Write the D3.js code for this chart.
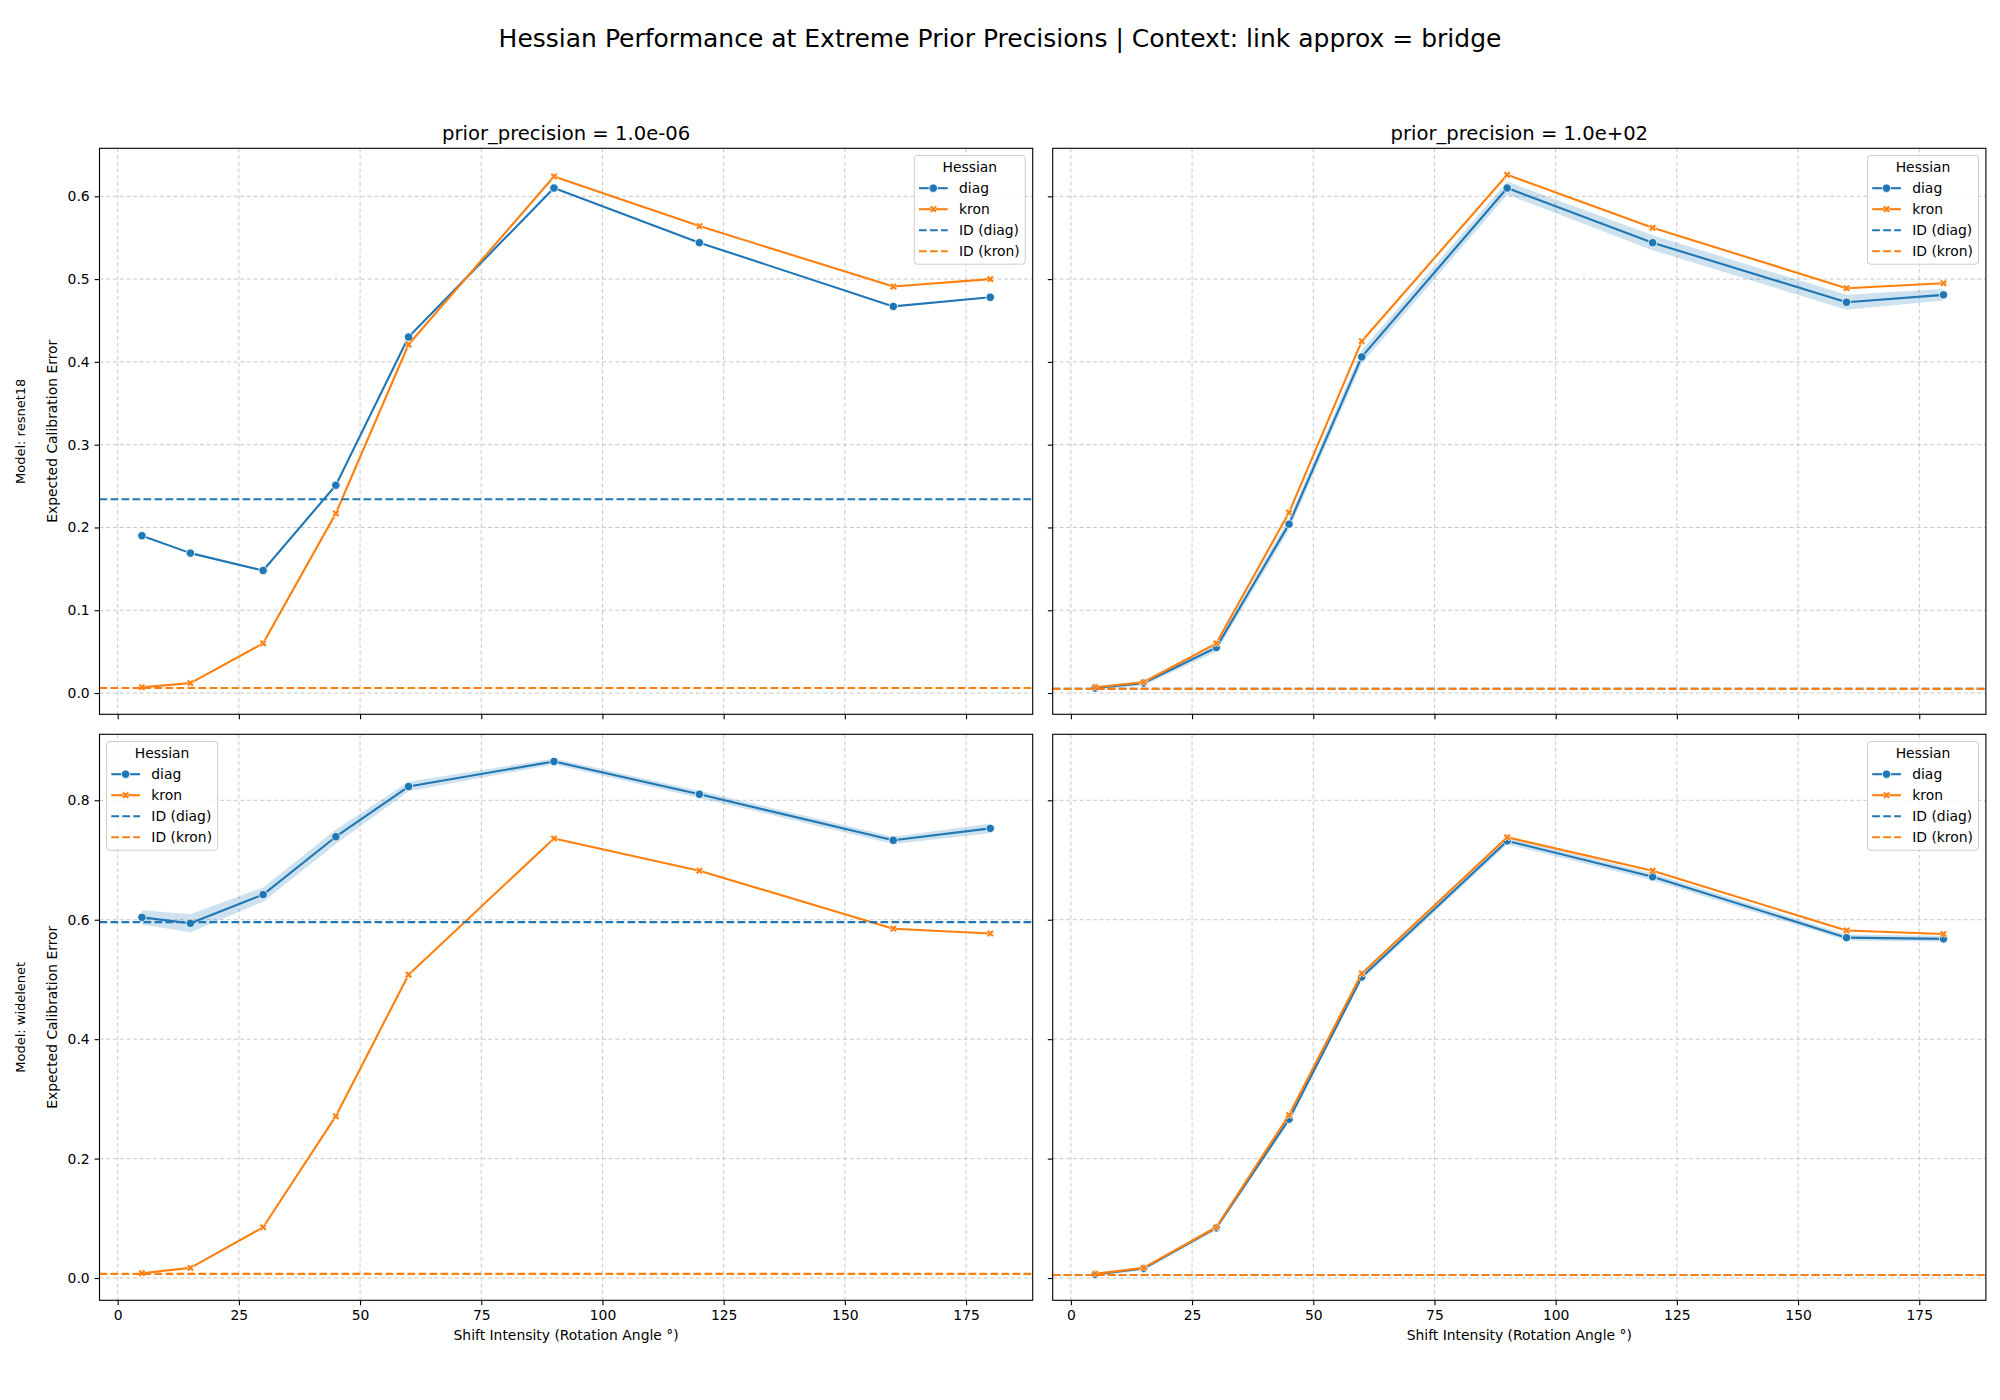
<!DOCTYPE html>
<html>
<head>
<meta charset="utf-8">
<script src="https://cdn.jsdelivr.net/npm/d3@7"></script>
<style>
  body { margin: 0; background: #fff; }
  text { font-family: "DejaVu Sans", sans-serif; fill: #000; }
</style>
</head>
<body>
<div id="vis"></div>
<script>
// ---- data ----
var angles = [5, 15, 30, 45, 60, 90, 120, 160, 180];
var xTicks = [0, 25, 50, 75, 100, 125, 150, 175];
var yTicksTop = [0.0, 0.1, 0.2, 0.3, 0.4, 0.5, 0.6];
var yTicksBottom = [0.0, 0.2, 0.4, 0.6, 0.8];
var models = ["resnet18", "widelenet"];
var priorLabels = ["1.0e-06", "1.0e+02"];
var legendLabels = ["diag", "kron", "ID (diag)", "ID (kron)"];

// resnet18, prior 1e-06
var r18LowDiag = [0.190, 0.169, 0.148, 0.251, 0.430, 0.610, 0.544, 0.467, 0.478];
var r18LowKron = [0.007, 0.012, 0.060, 0.217, 0.421, 0.624, 0.564, 0.491, 0.500];
// resnet18, prior 1e+02
var r18HighDiag = [0.006, 0.012, 0.055, 0.204, 0.406, 0.610, 0.544, 0.472, 0.481];
var r18HighDiagLo = [0.004, 0.009, 0.050, 0.197, 0.398, 0.602, 0.535, 0.463, 0.474];
var r18HighDiagHi = [0.008, 0.015, 0.060, 0.211, 0.414, 0.618, 0.553, 0.481, 0.488];
var r18HighKron = [0.007, 0.013, 0.060, 0.218, 0.425, 0.626, 0.562, 0.489, 0.495];
// widelenet, prior 1e-06
var wlLowDiag = [0.604, 0.594, 0.642, 0.739, 0.823, 0.865, 0.810, 0.733, 0.753];
var wlLowDiagLo = [0.592, 0.579, 0.630, 0.727, 0.815, 0.860, 0.804, 0.727, 0.745];
var wlLowDiagHi = [0.616, 0.609, 0.654, 0.751, 0.831, 0.870, 0.816, 0.739, 0.761];
var wlLowKron = [0.008, 0.017, 0.085, 0.271, 0.508, 0.736, 0.682, 0.585, 0.577];
// widelenet, prior 1e+02
var wlHighDiag = [0.006, 0.016, 0.084, 0.266, 0.504, 0.732, 0.672, 0.570, 0.568];
var wlHighDiagLo = [0.004, 0.013, 0.080, 0.261, 0.499, 0.726, 0.666, 0.565, 0.563];
var wlHighDiagHi = [0.008, 0.019, 0.088, 0.271, 0.509, 0.738, 0.678, 0.575, 0.573];
var wlHighKron = [0.007, 0.017, 0.085, 0.273, 0.510, 0.738, 0.682, 0.582, 0.576];

// in-distribution reference levels, one per panel (TL, TR, BL, BR)
var idDiag = [0.234, 0.005, 0.596, 0.005];
var idKron = [0.006, 0.005, 0.007, 0.005];

// ---- layout ----
var BLUE = "#1f77b4", ORANGE = "#ff7f0e";
var colX = [99.5, 1052.7];
var rowY = [148.3, 734.3];
var panelW = 933.2, panelH = 566;
var yDomains = [[-0.0257, 0.658], [-0.0373, 0.9105]];
var FS = 13.9;

var panels = [
  { row: 0, col: 0, diag: r18LowDiag, lo: null, hi: null, kron: r18LowKron, legend: "right" },
  { row: 0, col: 1, diag: r18HighDiag, lo: r18HighDiagLo, hi: r18HighDiagHi, kron: r18HighKron, legend: "right" },
  { row: 1, col: 0, diag: wlLowDiag, lo: wlLowDiagLo, hi: wlLowDiagHi, kron: wlLowKron, legend: "left" },
  { row: 1, col: 1, diag: wlHighDiag, lo: wlHighDiagLo, hi: wlHighDiagHi, kron: wlHighKron, legend: "right" }
];

var svg = d3.select("#vis").append("svg")
  .attr("width", 2000).attr("height", 1400)
  .style("background", "#fff");

svg.append("text")
  .attr("x", 1000).attr("y", 47)
  .attr("text-anchor", "middle")
  .style("font-size", "25px")
  .text("Hessian Performance at Extreme Prior Precisions | Context: link approx = bridge");

var xScale = d3.scaleLinear().domain([-3.75, 188.75]).range([0, panelW]);

var crossSym = d3.symbol().type(d3.symbolCross).size(34);

function drawMarker(g, kind, cx, cy, color) {
  if (kind == "o") {
    g.append("circle").attr("cx", cx).attr("cy", cy).attr("r", 4.2)
      .attr("fill", color).attr("stroke", "#fff").attr("stroke-width", 0.8);
  } else {
    g.append("path").attr("d", crossSym())
      .attr("transform", "translate(" + cx + "," + cy + ") rotate(45)")
      .attr("fill", color).attr("stroke", "#fff").attr("stroke-width", 0.6);
  }
}

panels.forEach(function (p, i) {
  var g = svg.append("g")
    .attr("transform", "translate(" + colX[p.col] + "," + rowY[p.row] + ")");
  var yScale = d3.scaleLinear().domain(yDomains[p.row]).range([panelH, 0]);
  var yTicks = p.row == 0 ? yTicksTop : yTicksBottom;

  g.append("clipPath").attr("id", "clip" + i)
    .append("rect").attr("width", panelW).attr("height", panelH);

  // grid
  g.selectAll(".gx").data(xTicks).enter().append("line")
    .attr("x1", function (d) { return xScale(d); })
    .attr("x2", function (d) { return xScale(d); })
    .attr("y1", 0).attr("y2", panelH)
    .attr("stroke", "#c8c8c8").attr("stroke-width", 1).attr("stroke-dasharray", "4,2.7");
  g.selectAll(".gy").data(yTicks).enter().append("line")
    .attr("y1", function (d) { return yScale(d); })
    .attr("y2", function (d) { return yScale(d); })
    .attr("x1", 0).attr("x2", panelW)
    .attr("stroke", "#c8c8c8").attr("stroke-width", 1).attr("stroke-dasharray", "4,2.7");

  var plot = g.append("g").attr("clip-path", "url(#clip" + i + ")");

  // confidence band for diag
  if (p.lo) {
    var area = d3.area()
      .x(function (d, j) { return xScale(angles[j]); })
      .y0(function (d, j) { return yScale(p.lo[j]); })
      .y1(function (d, j) { return yScale(p.hi[j]); });
    plot.append("path").datum(p.lo).attr("d", area)
      .attr("fill", BLUE).attr("fill-opacity", 0.22).attr("stroke", "none");
  }

  var line = d3.line()
    .x(function (d, j) { return xScale(angles[j]); })
    .y(function (d) { return yScale(d); });

  [[p.diag, BLUE, "o"], [p.kron, ORANGE, "x"]].forEach(function (s) {
    plot.append("path").datum(s[0]).attr("d", line)
      .attr("fill", "none").attr("stroke", s[1]).attr("stroke-width", 2.1)
      .attr("stroke-linejoin", "round");
    s[0].forEach(function (v, j) {
      drawMarker(plot, s[2], xScale(angles[j]), yScale(v), s[1]);
    });
  });

  // ID reference lines
  [[idDiag[i], BLUE], [idKron[i], ORANGE]].forEach(function (h) {
    plot.append("line")
      .attr("x1", 0).attr("x2", panelW)
      .attr("y1", yScale(h[0])).attr("y2", yScale(h[0]))
      .attr("stroke", h[1]).attr("stroke-width", 2.1).attr("stroke-dasharray", "7.7,3.3");
  });

  // axes
  var xAxis = d3.axisBottom(xScale).tickValues(xTicks).tickSize(4.9).tickPadding(4.9)
    .tickFormat(p.row == 1 ? d3.format("d") : function () { return ""; });
  var gx = g.append("g").attr("transform", "translate(0," + panelH + ")").call(xAxis);
  var yAxis = d3.axisLeft(yScale).tickValues(yTicks).tickSize(4.9).tickPadding(4.9)
    .tickFormat(p.col == 0 ? d3.format(".1f") : function () { return ""; });
  var gy = g.append("g").call(yAxis);
  [gx, gy].forEach(function (a) {
    a.select(".domain").remove();
    a.selectAll(".tick line").attr("stroke", "#000").attr("stroke-width", 1.1);
    a.selectAll(".tick text").style("font-size", FS + "px")
      .style("font-family", "'DejaVu Sans', sans-serif").attr("fill", "#000");
  });

  // spines
  g.append("rect").attr("width", panelW).attr("height", panelH)
    .attr("fill", "none").attr("stroke", "#000").attr("stroke-width", 1.1);

  if (p.row == 0) {
    g.append("text").attr("x", panelW / 2).attr("y", -8.5)
      .attr("text-anchor", "middle").style("font-size", "19.6px")
      .text("prior_precision = " + priorLabels[p.col]);
  } else {
    g.append("text").attr("x", panelW / 2).attr("y", 1340 - rowY[1])
      .attr("text-anchor", "middle").style("font-size", FS + "px")
      .text("Shift Intensity (Rotation Angle \u00b0)");
  }
  if (p.col == 0) {
    g.append("text")
      .attr("transform", "translate(" + (52 - colX[0]) + "," + panelH / 2 + ") rotate(-90)")
      .attr("text-anchor", "middle").attr("dy", "0.35em").style("font-size", FS + "px")
      .text("Expected Calibration Error");
    g.append("text")
      .attr("transform", "translate(" + (20 - colX[0]) + "," + panelH / 2 + ") rotate(-90)")
      .attr("text-anchor", "middle").attr("dy", "0.35em").style("font-size", "13px")
      .text("Model: " + models[p.row]);
  }

  // legend
  var lw = 111, lh = 108.7;
  var lx = p.legend == "right" ? panelW - 7.4 - lw : 7.1;
  var lg = g.append("g").attr("transform", "translate(" + lx + ",7.2)");
  lg.append("rect").attr("width", lw).attr("height", lh).attr("rx", 3)
    .attr("fill", "#fff").attr("fill-opacity", 0.8)
    .attr("stroke", "#cccccc").attr("stroke-width", 1);
  lg.append("text").attr("x", lw / 2).attr("y", 16.8)
    .attr("text-anchor", "middle").style("font-size", FS + "px").text("Hessian");
  var legendColors = [BLUE, ORANGE, BLUE, ORANGE];
  legendLabels.forEach(function (lab, k) {
    var cy = 32.7 + k * 21;
    var ln = lg.append("line").attr("x1", 4.7).attr("x2", 33.4)
      .attr("y1", cy).attr("y2", cy)
      .attr("stroke", legendColors[k]).attr("stroke-width", 2.1);
    if (k >= 2) {
      ln.attr("stroke-dasharray", "7.7,3.3");
    } else {
      drawMarker(lg, k == 0 ? "o" : "x", 19, cy, legendColors[k]);
    }
    lg.append("text").attr("x", 44.7).attr("y", cy).attr("dy", "0.35em")
      .style("font-size", FS + "px").text(lab);
  });
});
</script>
</body>
</html>
